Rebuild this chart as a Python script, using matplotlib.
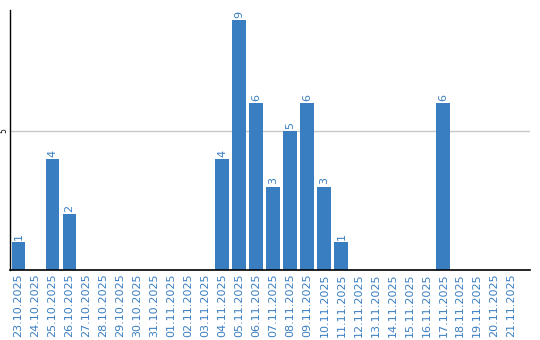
import matplotlib
matplotlib.use("Agg")
import matplotlib.pyplot as plt
import numpy as np

dates = ["23.10.2025", "24.10.2025", "25.10.2025", "26.10.2025", "27.10.2025",
         "28.10.2025", "29.10.2025", "30.10.2025", "31.10.2025", "01.11.2025",
         "02.11.2025", "03.11.2025", "04.11.2025", "05.11.2025", "06.11.2025",
         "07.11.2025", "08.11.2025", "09.11.2025", "10.11.2025", "11.11.2025",
         "12.11.2025", "13.11.2025", "14.11.2025", "15.11.2025", "16.11.2025",
         "17.11.2025", "18.11.2025", "19.11.2025", "20.11.2025", "21.11.2025"]
values = [1, 0, 4, 2, 0, 0, 0, 0, 0, 0, 0, 0, 4, 9, 6, 3, 5, 6, 3, 1,
          0, 0, 0, 0, 0, 6, 0, 0, 0, 0]
yticks = [5]

blue = "#3a7ec2"
fig = plt.figure(figsize=(5.4, 3.4), dpi=100)
ax = fig.add_axes([10/540, 70/340, 520/540, 260/340])
x = np.arange(len(dates))
ax.bar(x, values, width=0.82, color=blue, zorder=2)
for xi, v in zip(x, values):
    if v > 0:
        ax.text(xi, v + 0.08, str(v), rotation=90, ha="center", va="bottom",
                color=blue, fontsize=8)
ax.set_xlim(-0.5, 30.1)
ax.set_ylim(0, 9.35)
ax.set_yticks(yticks)
ax.set_yticklabels([str(t) for t in yticks], rotation=90, va="center", fontsize=5.5)
ax.tick_params(axis="y", length=0, pad=1.5)
ax.set_xticks(x)
ax.set_xticklabels(dates, rotation=90, color=blue, fontsize=8)
ax.tick_params(axis="x", length=0, pad=2.5)
ax.grid(axis="y", color="#c8c8c8", linewidth=1, zorder=0)
for s in ["top", "right"]:
    ax.spines[s].set_visible(False)
ax.spines["left"].set_linewidth(1)
ax.spines["bottom"].set_linewidth(1.2)
fig.savefig("out.png", dpi=100)
